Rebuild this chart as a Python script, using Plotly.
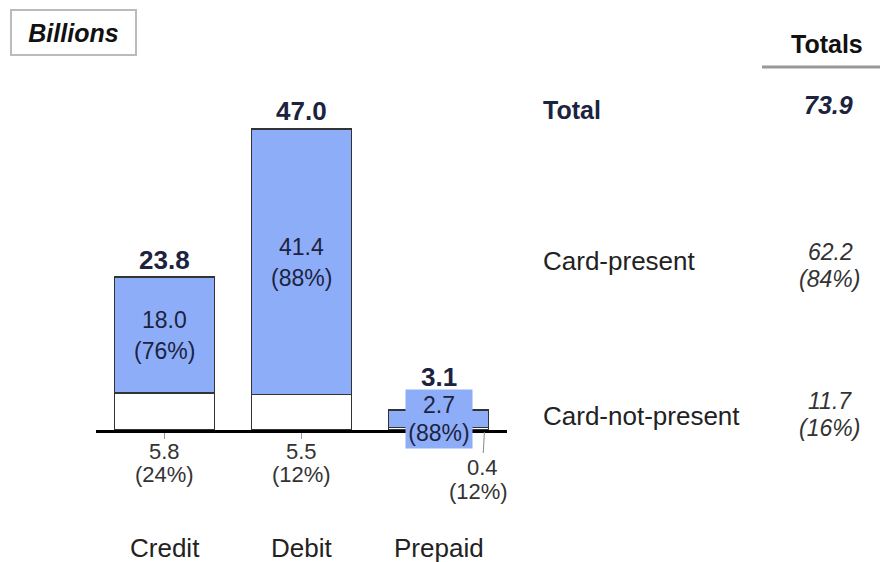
import plotly.graph_objects as go

# Card payment volume by card type, billions
categories = ["Credit", "Debit", "Prepaid"]
card_present = [18.0, 41.4, 2.7]
card_present_pct = ["76%", "88%", "88%"]
card_not_present = [5.8, 5.5, 0.4]
card_not_present_pct = ["24%", "12%", "12%"]
bar_totals = [23.8, 47.0, 3.1]

# right-hand summary column
summary_labels = ["Total", "Card-present", "Card-not-present"]
summary_values = [73.9, 62.2, 11.7]
summary_pct = [None, "84%", "16%"]

FONT = "Arial, Liberation Sans, sans-serif"
NAVY = "#1c2340"
GREY = "#333333"
BLUE = "#8eadf8"
W, H = 880, 562


def px_x(p):
    return p / W


def px_y(p):
    return 1 - p / H


fig = go.Figure()
fig.add_trace(go.Bar(
    x=categories, y=card_not_present, name="Card-not-present",
    marker={"color": "white", "line": {"color": "#333333", "width": 1.5}},
    width=0.73, hoverinfo="skip",
))
fig.add_trace(go.Bar(
    x=categories, y=card_present, name="Card-present",
    marker={"color": BLUE, "line": {"color": "#333333", "width": 1.5}},
    width=0.73, hoverinfo="skip",
))

ann = []
for cat, cp, cpp, cnp, cnpp, tot in zip(categories, card_present, card_present_pct,
                                          card_not_present, card_not_present_pct, bar_totals):
    mid = cnp + cp / 2
    small = cp < 5
    # total on top of bar
    ann.append(dict(x=cat, y=tot, text=f"<b>{tot:.1f}</b>", showarrow=False,
                    yanchor="middle", yshift=33 if small else 17,
                    font={"size": 26, "color": NAVY}))
    # card-present value inside segment
    box = dict(bgcolor=BLUE, width=64, height=28, borderpad=1) if small else {}
    ann.append(dict(x=cat, y=mid, text=f"{cp:.1f}", showarrow=False, yshift=14 if small else 15,
                    yanchor="middle", font={"size": 23, "color": NAVY}, **box))
    ann.append(dict(x=cat, y=mid, text=f"({cpp})", showarrow=False, yshift=-14 if small else -16,
                    yanchor="middle", font={"size": 23, "color": NAVY}, **box))
    # card-not-present below baseline
    if small:
        ann.append(dict(x=cat, y=0, xshift=46, text=f"{cnp:.1f}", showarrow=True,
                        arrowhead=0, arrowwidth=1, arrowcolor="#888888",
                        ax=-2, ay=37, standoff=2, font={"size": 22, "color": GREY}))
        ann.append(dict(x=cat, y=0, xshift=40, yshift=-61, text=f"({cnpp})", showarrow=False,
                        yanchor="middle", font={"size": 22, "color": GREY}))
    else:
        ann.append(dict(x=cat, y=0, text=f"{cnp:.1f}", showarrow=False,
                        yanchor="middle", yshift=-21, font={"size": 22, "color": GREY}))
        ann.append(dict(x=cat, y=0, text=f"({cnpp})", showarrow=False,
                        yanchor="middle", yshift=-44, font={"size": 22, "color": GREY}))
    # category label
    ann.append(dict(x=cat, y=0, text=cat, showarrow=False, yshift=-118,
                    yanchor="middle", font={"size": 26, "color": "#222222"}))


def paper_note(x, y, text, **kw):
    d = dict(xref="paper", yref="paper", x=px_x(x), y=px_y(y), text=text,
             showarrow=False, xanchor="center", yanchor="middle")
    d.update(kw)
    return d


# summary column
ann.append(paper_note(827, 44, "<b>Totals</b>", font={"size": 25, "color": "#111111"}))
label_y = [110, 261, 416]
value_y = [105, 252, 401]
for lab, val, pct, ly, vy in zip(summary_labels, summary_values, summary_pct, label_y, value_y):
    bold = pct is None
    ann.append(paper_note(541, ly, f"<b>{lab}</b>" if bold else lab, xanchor="left",
                          font={"size": 25 if bold else 26, "color": NAVY if bold else "#222222"}))
    if bold:
        ann.append(paper_note(828, vy, f"<b><i>{val:.1f}</i></b>",
                              font={"size": 25, "color": NAVY}))
    else:
        ann.append(paper_note(830, vy, f"<i>{val:.1f}</i>", font={"size": 23, "color": GREY}))
        ann.append(paper_note(829, vy + 27, f"<i>({pct})</i>", font={"size": 23, "color": GREY}))

# units box
ann.append(paper_note(73, 33, "<b><i>Billions</i></b>", width=121, height=41, borderpad=1,
                      bordercolor="#bbbbbb", borderwidth=2, bgcolor="white",
                      font={"size": 25, "color": "#111111"}))

fig.update_layout(
    width=W, height=H,
    barmode="stack",
    showlegend=False,
    paper_bgcolor="white",
    plot_bgcolor="white",
    margin={"t": 0, "b": 0, "l": 0, "r": 0},
    font={"family": FONT},
    annotations=ann,
    shapes=[dict(type="line", xref="paper", yref="paper",
                 x0=px_x(762), x1=px_x(880), y0=px_y(67), y1=px_y(67),
                 line={"color": "#999999", "width": 3})],
    xaxis={
        "domain": [px_x(96), px_x(507)],
        "range": [-0.5, 2.5],
        "showline": True, "linecolor": "black", "linewidth": 3,
        "ticks": "outside", "ticklen": 6, "tickcolor": "#999999", "tickwidth": 1,
        "showticklabels": False, "showgrid": False, "zeroline": False,
    },
    yaxis={
        "domain": [px_y(430), px_y(109)],
        "range": [0, 50],
        "visible": False,
    },
)

fig.write_html("out.html", config={"displayModeBar": False},
               post_script="document.body.style.margin='0';")
